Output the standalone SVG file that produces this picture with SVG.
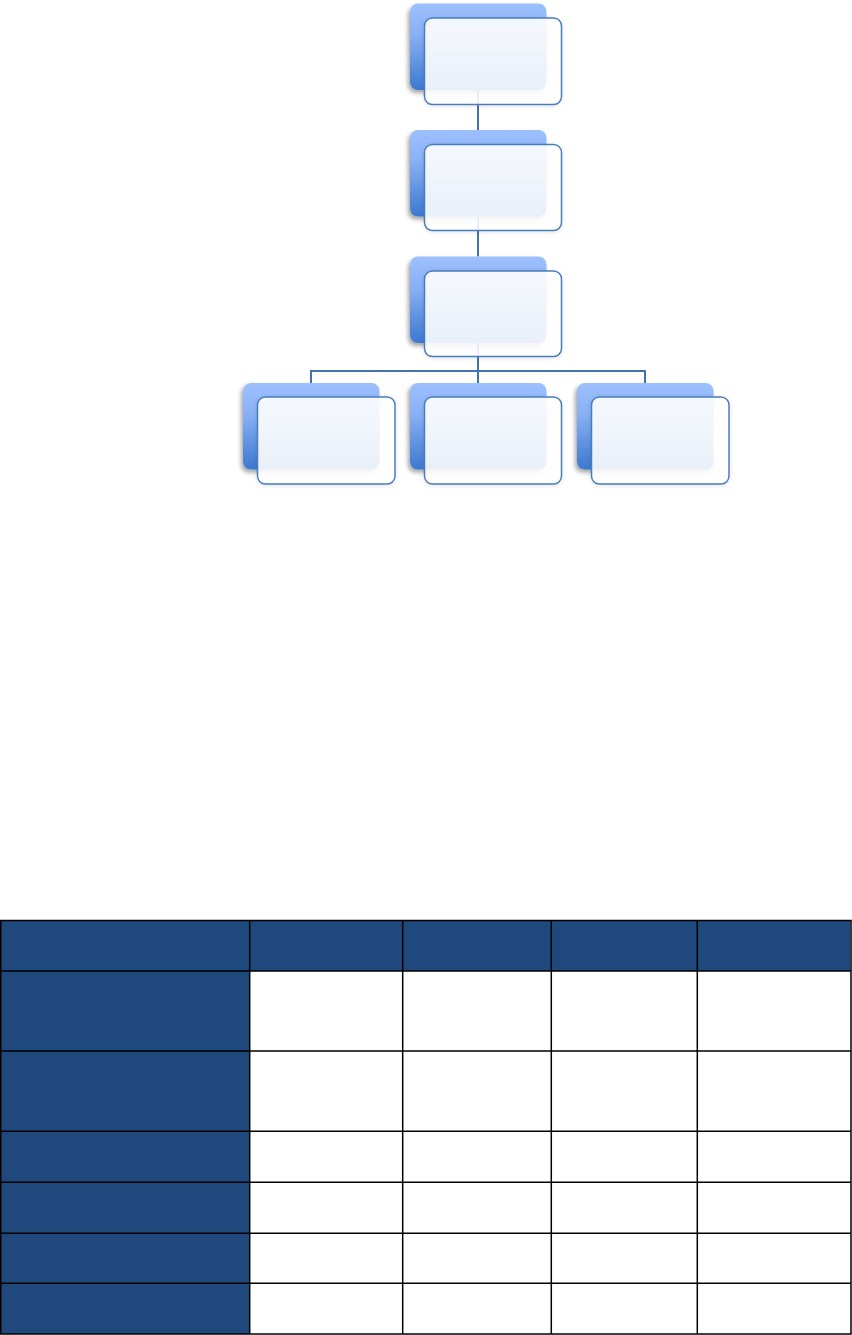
<svg xmlns="http://www.w3.org/2000/svg" width="852" height="1335" viewBox="0 0 852 1335">
<style>
.back{fill:url(#gBack);filter:url(#shBack)}
.front{fill:url(#gFront);stroke:#4A7EBB;stroke-width:1.5;filter:url(#shFront)}
.conn{fill:none;stroke:#4272B0;stroke-width:2}
.hdr{fill:#1F497D}
.grid{fill:none;stroke:#000;stroke-width:1.5}
</style>
<defs>
<linearGradient id="gBack" x1="0" y1="0" x2="0" y2="1">
<stop offset="0" stop-color="#9DC0FD"/>
<stop offset="0.35" stop-color="#8AB1F5"/>
<stop offset="1" stop-color="#3C78CF"/>
</linearGradient>
<linearGradient id="gFront" x1="0" y1="0" x2="0" y2="1">
<stop offset="0" stop-color="#FFFFFF" stop-opacity="0.9"/>
<stop offset="1" stop-color="#FFFFFF" stop-opacity="0.88"/>
</linearGradient>
<filter id="shBack" x="-20%" y="-20%" width="140%" height="140%">
<feDropShadow dx="-2" dy="3" stdDeviation="2" flood-color="#000" flood-opacity="0.35"/>
</filter>
<filter id="shFront" x="-20%" y="-20%" width="140%" height="140%">
<feDropShadow dx="0" dy="1" stdDeviation="2" flood-color="#000" flood-opacity="0.12"/>
</filter>
</defs>
<rect width="852" height="1335" fill="#FFFFFF"/>

<g id="connectors">
<line class="conn" x1="478" y1="90" x2="478" y2="130"/>
<line class="conn" x1="478" y1="216" x2="478" y2="256.5"/>
<path class="conn" d="M478 343 V371 M311 383 V371 H645 V383 M478 371 V383"/>
</g>

<g id="node1">
<rect class="back" x="410" y="3.5" width="136.5" height="86.5" rx="8"/>
<rect class="front" x="424.5" y="18" width="137" height="86.5" rx="8"/>
</g>
<g id="node2">
<rect class="back" x="410" y="130" width="136.5" height="86.5" rx="8"/>
<rect class="front" x="424.5" y="144.5" width="137" height="86" rx="8"/>
</g>
<g id="node3">
<rect class="back" x="410" y="256.5" width="136.5" height="86.5" rx="8"/>
<rect class="front" x="424.5" y="271" width="137" height="85.5" rx="8"/>
</g>
<g id="node4">
<rect class="back" x="243" y="383" width="136.5" height="86.5" rx="8"/>
<rect class="front" x="257.5" y="397" width="137.5" height="87" rx="8"/>
</g>
<g id="node5">
<rect class="back" x="410" y="383" width="136.5" height="86.5" rx="8"/>
<rect class="front" x="424.5" y="397" width="137" height="87" rx="8"/>
</g>
<g id="node6">
<rect class="back" x="577" y="383" width="136.5" height="86.5" rx="8"/>
<rect class="front" x="591.5" y="397" width="137.5" height="87" rx="8"/>
</g>

<g id="table">
<rect class="hdr" x="0.75" y="920.5" width="849.5" height="50.5"/>
<rect class="hdr" x="0.75" y="971" width="249" height="363"/>
<path class="grid" d="M0.75 920.5 H851 V1334 H0.75 Z M249.7 920.5 V1334 M402.7 920.5 V1334 M551.3 920.5 V1334 M697.3 920.5 V1334 M0.75 971 H851 M0.75 1051 H851 M0.75 1131.3 H851 M0.75 1182.3 H851 M0.75 1233.3 H851 M0.75 1283.3 H851"/>
</g>
</svg>
